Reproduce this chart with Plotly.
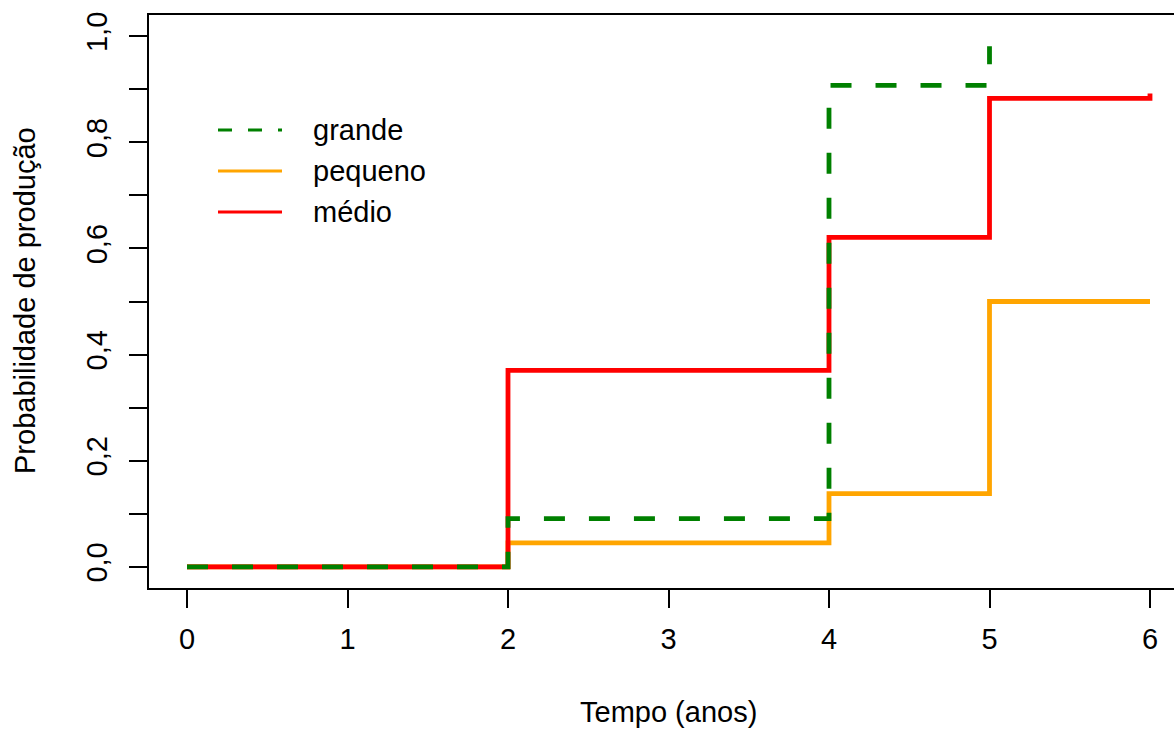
import plotly.graph_objects as go

# Step curves: probability of production over time, by size class
tempo_grande = [0, 2, 4, 5]
prob_grande = [0.0, 0.0906, 0.9075, 0.981]

tempo_pequeno = [0, 2, 4, 5, 6]
prob_pequeno = [0.0, 0.045, 0.138, 0.5, 0.5]

tempo_medio = [0, 2, 4, 5, 6]
prob_medio = [0.0, 0.37, 0.621, 0.883, 0.892]

x_ticks = [0, 1, 2, 3, 4, 5, 6]
y_ticks = [0.0, 0.1, 0.2, 0.3, 0.4, 0.5, 0.6, 0.7, 0.8, 0.9, 1.0]
y_labels = ["0,0", "", "0,2", "", "0,4", "", "0,6", "", "0,8", "", "1,0"]

legend_names = ["grande", "pequeno", "médio"]

COR_GRANDE = "#008000"
COR_PEQUENO = "#FFA500"
COR_MEDIO = "#FF0000"

W, H = 1174, 730
ML, MR, MT, MB = 149, 0, 15, 142
FONT = "Liberation Sans, Arial, Helvetica, sans-serif"
FS = 29
LW = 4.8

fig = go.Figure()
fig.add_trace(go.Scatter(x=tempo_pequeno, y=prob_pequeno, mode="lines",
                         line=dict(shape="hv", color=COR_PEQUENO, width=LW),
                         showlegend=False, hoverinfo="skip"))
fig.add_trace(go.Scatter(x=tempo_medio, y=prob_medio, mode="lines",
                         line=dict(shape="hv", color=COR_MEDIO, width=LW),
                         showlegend=False, hoverinfo="skip"))
fig.add_trace(go.Scatter(x=tempo_grande, y=prob_grande, mode="lines",
                         line=dict(shape="hv", color=COR_GRANDE, width=LW,
                                   dash="21px,24px"),
                         showlegend=False, hoverinfo="skip"))

plot_w = W - ML - MR
plot_h = H - MT - MB


def px_x(p):
    return (p - ML) / plot_w


def px_y(p):
    return (H - MB - p) / plot_h


# hand-made legend (no box)
leg_rows = [130, 171, 212]
leg_styles = [
    dict(color=COR_GRANDE, width=3.2, dash="14px,16px"),
    dict(color=COR_PEQUENO, width=3.2),
    dict(color=COR_MEDIO, width=3.2),
]
for name, row, st in zip(legend_names, leg_rows, leg_styles):
    fig.add_shape(type="line", xref="paper", yref="paper",
                  x0=px_x(218), x1=px_x(282), y0=px_y(row), y1=px_y(row),
                  line=st)
    fig.add_annotation(text=name, xref="paper", yref="paper",
                       x=px_x(311), y=px_y(row), xanchor="left", yanchor="middle",
                       showarrow=False, font=dict(family=FONT, size=FS, color="black"))

# axis titles
fig.add_annotation(text="Tempo (anos)", xref="paper", yref="paper",
                   x=px_x(668), y=px_y(712), xanchor="center", yanchor="middle",
                   showarrow=False, font=dict(family=FONT, size=FS, color="black"))
fig.add_annotation(text="Probabilidade de produção", xref="paper", yref="paper",
                   x=px_x(25), y=px_y(301), xanchor="center", yanchor="middle",
                   textangle=-90, showarrow=False,
                   font=dict(family=FONT, size=FS, color="black"))

x_per = (1150 - 187) / 6.0
x0 = -(187 - ML) / x_per
x1 = x0 + plot_w / x_per

fig.update_layout(
    width=W, height=H,
    margin=dict(l=ML, r=MR, t=MT, b=MB, pad=0),
    paper_bgcolor="white", plot_bgcolor="white",
    font=dict(family=FONT, size=FS, color="black"),
    xaxis=dict(range=[x0, x1], tickvals=x_ticks, ticktext=[str(v) for v in x_ticks],
               ticks="outside", ticklen=18, tickwidth=2, tickcolor="black",
               showline=True, linecolor="black", linewidth=2, mirror=True,
               showgrid=False, zeroline=False, ticklabelstandoff=6),
    yaxis=dict(range=[-0.04, 1.04], tickvals=y_ticks, ticktext=y_labels,
               tickangle=-90, ticks="outside", ticklen=18, tickwidth=2,
               tickcolor="black", showline=True, linecolor="black", linewidth=2,
               showgrid=False, zeroline=False, ticklabelstandoff=10),
)

fig.write_html("out.html")
